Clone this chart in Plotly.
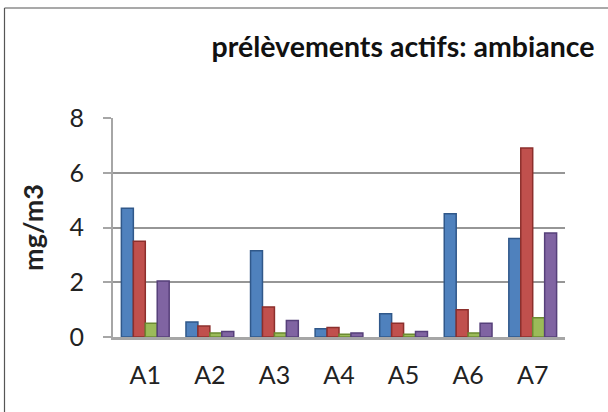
import plotly.graph_objects as go

# Sampling sites and measured concentrations (mg/m3) for four series
categories = ["A1", "A2", "A3", "A4", "A5", "A6", "A7"]
serie_1 = [4.7, 0.55, 3.15, 0.3, 0.85, 4.5, 3.6]
serie_2 = [3.5, 0.4, 1.1, 0.35, 0.5, 1.0, 6.9]
serie_3 = [0.5, 0.15, 0.15, 0.1, 0.1, 0.15, 0.7]
serie_4 = [2.05, 0.2, 0.6, 0.15, 0.2, 0.5, 3.8]
y_ticks = [0, 2, 4, 6, 8]

series = [
    (serie_1, "#4F81BD", "#30588A"),
    (serie_2, "#C0504D", "#8C2F2C"),
    (serie_3, "#9BBB59", "#6B8A32"),
    (serie_4, "#8064A2", "#56407A"),
]

fig = go.Figure()
for values, fill, edge in series:
    fig.add_trace(go.Bar(
        x=categories, y=values,
        marker=dict(color=fill, line=dict(color=edge, width=1.5)),
        showlegend=False,
    ))

W, H = 608, 412
L, R, T, B = 113, 43, 118, 75

fig.update_layout(
    width=W, height=H,
    margin=dict(l=L, r=R, t=T, b=B),
    paper_bgcolor="white", plot_bgcolor="white",
    barmode="group", bargap=0.26, bargroupgap=0.0,
    font=dict(family="Lato, Carlito, Calibri, sans-serif", color="#222", size=25),
    title=dict(
        text="<b>prélèvements actifs: ambiance</b>",
        x=403 / W, xref="container", xanchor="center",
        y=1 - 47 / H, yref="container", yanchor="middle",
        font=dict(size=28.5, color="#111"),
    ),
    xaxis=dict(
        showgrid=False, ticks="", showline=True, linecolor="#A6A6A6", linewidth=3,
        ticklabelstandoff=14, tickfont=dict(size=25),
    ),
    yaxis=dict(
        range=[0, 8], tickvals=y_ticks, showgrid=True, gridcolor="#969696", gridwidth=2,
        zeroline=False, showline=True, linecolor="#A6A6A6", linewidth=2,
        ticks="outside", ticklen=8, tickcolor="#A6A6A6", tickwidth=2,
        ticklabelstandoff=14, tickfont=dict(size=25),
        title=dict(text="<b>mg/m3</b>", font=dict(size=27), standoff=18),
    ),
)

# Outer frame of the chart area (left and top edges)
px = lambda v: (v - L) / (W - L - R)
py = lambda v: (H - B - v) / (H - T - B)
fig.add_shape(type="line", xref="paper", yref="paper",
              x0=px(4.5), x1=px(4.5), y0=py(8), y1=py(420),
              line=dict(color="#555", width=1.2))
fig.add_shape(type="line", xref="paper", yref="paper",
              x0=px(4.5), x1=px(620), y0=py(8), y1=py(8),
              line=dict(color="#555", width=1.2))

fig.write_html("out.html")
